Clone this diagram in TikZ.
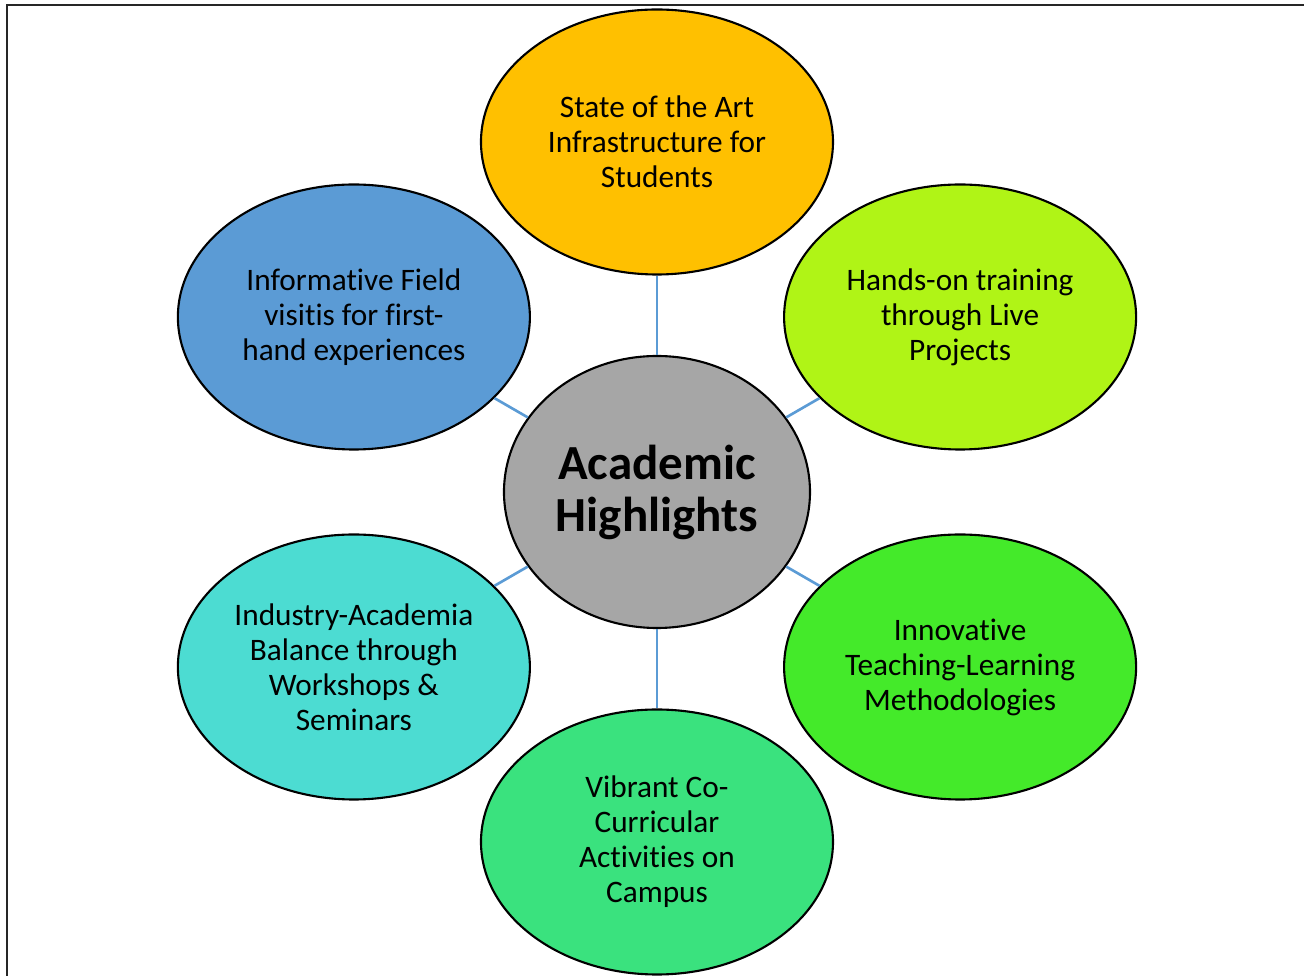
\documentclass[tikz,border=0pt]{standalone}
\usepackage{fontspec}
\setmainfont[Ligatures=NoCommon]{Carlito}
\usepackage{tikz}
\usetikzlibrary{calc}
\usetikzlibrary{shapes.geometric}
\definecolor{hubgray}{RGB}{166,166,166}
\definecolor{linkblue}{RGB}{91,155,213}
\definecolor{cOrange}{RGB}{255,192,0}
\definecolor{cLime}{RGB}{176,244,22}
\definecolor{cGreen}{RGB}{68,234,42}
\definecolor{cMint}{RGB}{58,226,126}
\definecolor{cTeal}{RGB}{76,220,210}
\definecolor{cBlue}{RGB}{91,155,213}
\tikzstyle{hubnode}=[black,draw=black,line width=1.2pt,shape=ellipse,fill=hubgray,minimum width=6.12cm,minimum height=5.44cm,inner sep=0pt,align=center,font=\bfseries\fontsize{27.9}{29.6}\selectfont]
\tikzstyle{satnode}=[black,draw=black,line width=1.2pt,shape=ellipse,minimum width=7.04cm,minimum height=5.3cm,inner sep=0pt,align=center,font=\fontsize{17.8}{19.9}\selectfont]
\tikzstyle{link}=[line width=1.5pt,color=linkblue]
\tikzstyle{frameline}=[line width=1pt,color=black!85]

\begin{document}
\begin{tikzpicture}

	\useasboundingbox (-13.14, -9.68) rectangle (12.94, 9.84);
	\draw[frameline] (-13.0, -9.68) -- (-13.0, 9.74) -- (12.94, 9.74);

	% Hub
	\node[hubnode] (hub) at (0, 0) {Academic\\Highlights};

	% Satellites
	\node[satnode, fill=cOrange] (infra) at ($(hub) + (90:7)$) {State of the Art\\Infrastructure for\\Students};
	\node[satnode, fill=cLime] (live) at ($(hub) + (30:7)$) {Hands-on training\\through Live\\Projects};
	\node[satnode, fill=cGreen] (teach) at ($(hub) + (-30:7)$) {Innovative\\Teaching-Learning\\Methodologies};
	\node[satnode, fill=cMint] (cocur) at ($(hub) + (-90:7)$) {Vibrant Co-\\Curricular\\Activities on\\Campus};
	\node[satnode, fill=cTeal] (indus) at ($(hub) + (210:7)$) {Industry-Academia\\Balance through\\Workshops \&\\Seminars};
	\node[satnode, fill=cBlue] (field) at ($(hub) + (150:7)$) {Informative Field\\visitis for first-\\hand experiences};

	\draw[link] (hub) -- (infra);
	\draw[link] (hub) -- (live);
	\draw[link] (hub) -- (teach);
	\draw[link] (hub) -- (cocur);
	\draw[link] (hub) -- (indus);
	\draw[link] (hub) -- (field);

\end{tikzpicture}
\end{document}
